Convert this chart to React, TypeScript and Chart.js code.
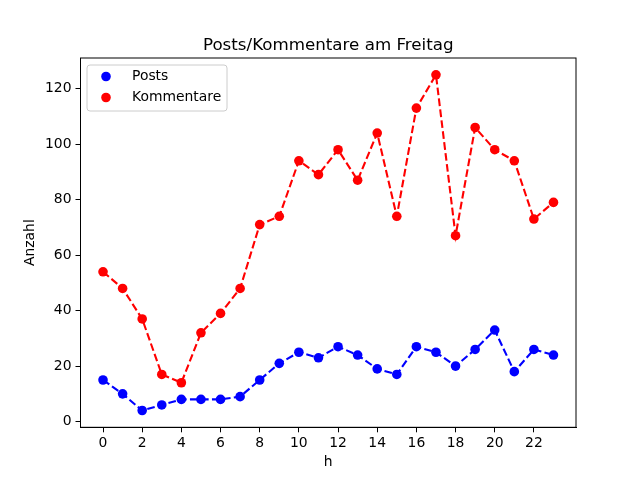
import React, { useEffect, useRef } from "react";
import { Chart, registerables, Plugin } from "chart.js";

Chart.register(...registerables);

const hours: number[] = Array.from({ length: 24 }, (_, i) => i);
const posts: number[] = [15, 10, 4, 6, 8, 8, 8, 9, 15, 21, 25, 23, 27, 24, 19, 17, 27, 25, 20, 26, 33, 18, 26, 24];
const kommentare: number[] = [54, 48, 37, 17, 14, 32, 39, 48, 71, 74, 94, 89, 98, 87, 104, 74, 113, 125, 67, 106, 98, 94, 73, 79];
const xTicks: number[] = [0, 2, 4, 6, 8, 10, 12, 14, 16, 18, 20, 22];
const yTicks: number[] = [0, 20, 40, 60, 80, 100, 120];

const FONT = "'DejaVu Sans', sans-serif";

// frame, title, axis labels and legend drawn the matplotlib way
const decorations: Plugin<"line"> = {
  id: "decorations",
  afterDraw(chart) {
    const { ctx, chartArea: a } = chart;
    ctx.save();
    ctx.strokeStyle = "#000";
    ctx.lineWidth = 1;
    ctx.strokeRect(a.left, a.top, a.right - a.left, a.bottom - a.top);

    ctx.fillStyle = "#000";
    ctx.textAlign = "center";
    ctx.textBaseline = "alphabetic";
    ctx.font = `16.7px ${FONT}`;
    ctx.fillText("Posts/Kommentare am Freitag", (a.left + a.right) / 2, 49.5);

    ctx.font = `13.9px ${FONT}`;
    ctx.textBaseline = "middle";
    ctx.fillText("h", (a.left + a.right) / 2, 462);
    ctx.save();
    ctx.translate(30, (a.top + a.bottom) / 2);
    ctx.rotate(-Math.PI / 2);
    ctx.fillText("Anzahl", 0, 0);
    ctx.restore();

    // legend
    const bx = 87, by = 65, bw = 140, bh = 46;
    ctx.beginPath();
    ctx.roundRect(bx, by, bw, bh, 3);
    ctx.fillStyle = "rgba(255,255,255,0.8)";
    ctx.fill();
    ctx.strokeStyle = "#cccccc";
    ctx.stroke();
    chart.data.datasets.forEach((ds, i) => {
      const y = 76.5 + i * 21;
      ctx.beginPath();
      ctx.arc(106, y, 4.8, 0, Math.PI * 2);
      ctx.fillStyle = ds.borderColor as string;
      ctx.fill();
      ctx.fillStyle = "#000";
      ctx.textAlign = "left";
      ctx.fillText(ds.label as string, 132, y);
    });
    ctx.restore();
  },
};

export default function App() {
  const canvasRef = useRef<HTMLCanvasElement | null>(null);
  const chartRef = useRef<Chart | null>(null);

  useEffect(() => {
    if (!canvasRef.current) return;
    if (chartRef.current) chartRef.current.destroy();

    const dashed = {
      borderWidth: 2.1,
      borderDash: [7.7, 3.3],
      pointRadius: 4.8,
      pointHoverRadius: 4.8,
      pointBorderWidth: 0,
      fill: false,
      tension: 0,
    };

    chartRef.current = new Chart(canvasRef.current, {
      type: "line",
      data: {
        datasets: [
          {
            label: "Posts",
            data: hours.map((h, i) => ({ x: h, y: posts[i] })),
            borderColor: "#0000ff",
            backgroundColor: "#0000ff",
            pointBackgroundColor: "#0000ff",
            ...dashed,
          },
          {
            label: "Kommentare",
            data: hours.map((h, i) => ({ x: h, y: kommentare[i] })),
            borderColor: "#ff0000",
            backgroundColor: "#ff0000",
            pointBackgroundColor: "#ff0000",
            ...dashed,
          },
        ],
      },
      options: {
        animation: false,
        responsive: true,
        maintainAspectRatio: false,
        layout: { padding: { top: 58, right: 64, left: 0, bottom: 0 } },
        plugins: {
          legend: { display: false },
          title: { display: false },
          tooltip: { enabled: false },
        },
        scales: {
          x: {
            type: "linear",
            min: -1.15,
            max: 24.15,
            afterBuildTicks: (s) => {
              s.ticks = xTicks.map((v) => ({ value: v }));
            },
            afterFit: (s) => {
              s.height = 480 - 427.3;
            },
            grid: { drawOnChartArea: false, drawTicks: true, tickLength: 5, tickColor: "#000" },
            border: { display: true, color: "#000" },
            ticks: { color: "#000", padding: 3, maxRotation: 0, font: { family: FONT, size: 13.9 } },
          },
          y: {
            type: "linear",
            min: -2.05,
            max: 131.05,
            afterBuildTicks: (s) => {
              s.ticks = yTicks.map((v) => ({ value: v }));
            },
            afterFit: (s) => {
              s.width = 80.5;
            },
            grid: { drawOnChartArea: false, drawTicks: true, tickLength: 5, tickColor: "#000" },
            border: { display: true, color: "#000" },
            ticks: { color: "#000", padding: 4, font: { family: FONT, size: 13.9 } },
          },
        },
      },
      plugins: [decorations],
    });

    return () => {
      if (chartRef.current) {
        chartRef.current.destroy();
        chartRef.current = null;
      }
    };
  }, []);

  return (
    <div style={{ position: "fixed", left: 0, top: 0, width: 640, height: 480, background: "#fff" }}>
      <canvas ref={canvasRef}></canvas>
    </div>
  );
}
